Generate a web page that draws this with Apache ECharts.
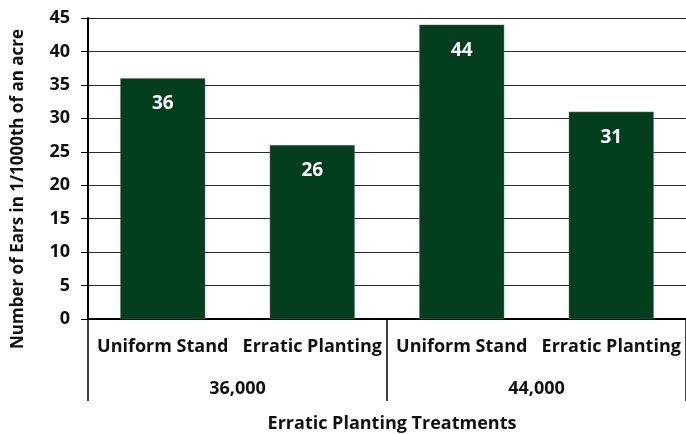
<!DOCTYPE html>
<html>
<head>
<meta charset="utf-8">
<script src="https://cdn.jsdelivr.net/npm/echarts@6/dist/echarts.min.js"></script>
<style>
  html, body { margin: 0; padding: 0; background: #fff; }
  #chart { width: 686px; height: 434px; }
</style>
</head>
<body>
<div id="chart"></div>
<script>
// Treatment categories and planting populations
const treatments = ['Uniform Stand', 'Erratic Planting', 'Uniform Stand', 'Erratic Planting'];
const populations = ['36,000', '44,000'];
// Number of ears per 1/1000th acre
const ears = [36, 26, 44, 31];

const FONT = '"Open Sans", sans-serif';
const chart = echarts.init(document.getElementById('chart'), null, { renderer: 'canvas' });

chart.setOption({
  animation: false,
  backgroundColor: '#ffffff',
  grid: { left: 88, top: 18, right: -4, bottom: 115, containLabel: false },
  xAxis: [
    {
      type: 'category',
      data: treatments,
      position: 'bottom',
      axisLine: { show: true, lineStyle: { color: '#000', width: 2 } },
      axisTick: { show: false },
      axisLabel: { margin: 19, color: '#111', fontFamily: FONT, fontWeight: 'bold', fontSize: 18, interval: 0 },
      splitLine: { show: false }
    },
    {
      type: 'category',
      data: populations,
      position: 'bottom',
      axisLine: { show: false },
      axisTick: { show: true, length: 82, interval: 0, lineStyle: { color: '#000', width: 1.5 } },
      axisLabel: { margin: 61, color: '#111', fontFamily: FONT, fontWeight: 'bold', fontSize: 18 },
      splitLine: { show: false }
    }
  ],
  yAxis: {
    type: 'value',
    min: 0,
    max: 45,
    interval: 5,
    axisLine: { show: true, lineStyle: { color: '#000', width: 2 } },
    axisTick: { show: true, length: 7, lineStyle: { color: '#000', width: 1 } },
    axisLabel: { margin: 18, color: '#111', fontFamily: FONT, fontWeight: 'bold', fontSize: 18 },
    splitLine: { show: true, lineStyle: { color: '#2a2a2a', width: 1 } }
  },
  graphic: [
    {
      type: 'text',
      x: 18,
      y: 189,
      rotation: Math.PI / 2,
      style: {
        text: 'Number of Ears in 1/1000th of an acre',
        fill: '#111',
        font: 'bold 17px ' + FONT,
        align: 'center',
        verticalAlign: 'middle'
      }
    },
    {
      type: 'text',
      x: 392,
      y: 424,
      style: {
        text: 'Erratic Planting Treatments',
        fill: '#111',
        font: 'bold 18px ' + FONT,
        align: 'center',
        verticalAlign: 'middle'
      }
    }
  ],
  series: [
    {
      type: 'bar',
      data: ears,
      xAxisIndex: 0,
      barWidth: 85,
      itemStyle: { color: '#033f1e', borderColor: '#5a7a66', borderWidth: 0.5 },
      label: {
        show: true,
        position: 'insideTop',
        distance: 16,
        color: '#ffffff',
        fontFamily: FONT,
        fontWeight: 'bold',
        fontSize: 19
      }
    }
  ]
});
</script>
</body>
</html>
